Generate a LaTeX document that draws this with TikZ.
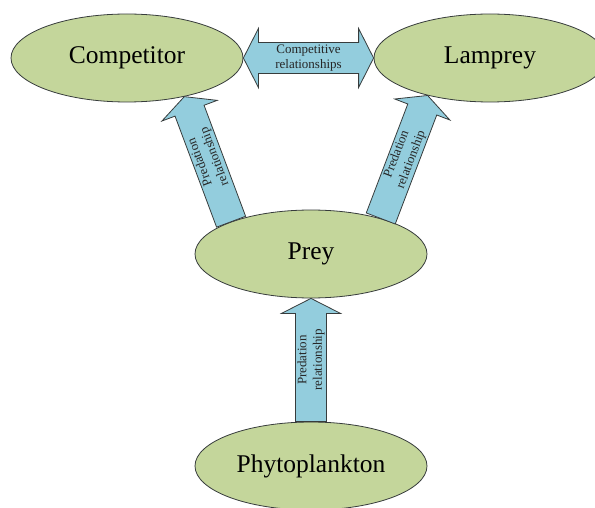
\documentclass[tikz,border=0pt]{standalone}
\usepackage{fontspec}
\setmainfont{Liberation Serif}
\usetikzlibrary{calc,shapes.geometric}
\definecolor{ovalgreen}{RGB}{196,214,155}
\definecolor{arrowblue}{RGB}{147,205,221}
\definecolor{edgegray}{RGB}{55,60,60}

\tikzset{
	oval/.style={ellipse, draw=edgegray, fill=ovalgreen, line width=0.8pt,
		minimum width=232pt, minimum height=88pt, inner sep=0pt,
		font=\fontsize{25.5}{30}\selectfont},
	fatline/.style={draw=edgegray, fill=arrowblue, line width=0.8pt, line join=miter},
	arrowtext/.style={font=\fontsize{13}{15.5}\selectfont, align=center, text=black!85}
}

% #1 base, #2 tip, #3 label
\newcommand{\fatarrow}[3]{%
	\coordinate (hb) at ($(#2)!15pt!(#1)$);
	\draw[fatline] ($(#1)!15.5pt!90:(#2)$) -- ($(hb)!15.5pt!90:(#2)$)
		-- ($(hb)!29.5pt!90:(#2)$) -- (#2) -- ($(hb)!29.5pt!-90:(#2)$)
		-- ($(hb)!15.5pt!-90:(#2)$) -- ($(#1)!15.5pt!-90:(#2)$) -- cycle;
	\path (#1) -- (#2) node[midway, sloped, allow upside down, arrowtext] {#3};
}

\begin{document}
\begin{tikzpicture}[x=1pt,y=1pt]
	\useasboundingbox (0,0) rectangle (595,-508);
	\node[oval] (comp) at (127,-58) {Competitor};
	\node[oval] (lamprey) at (490,-58) {Lamprey};
	\node[oval] (prey) at (311,-254) {Prey};
	\node[oval] (phyto) at (311,-466) {Phytoplankton};

	\fatarrow{prey.158}{comp.326}{Predation\\relationship}
	\fatarrow{prey.27}{lamprey.211}{Predation\\relationship}
	\fatarrow{phyto.north}{prey.south}{Predation\\relationship}

	\coordinate (la) at ($(comp.east)!15pt!(lamprey.west)$);
	\coordinate (ra) at ($(lamprey.west)!15pt!(comp.east)$);
	\draw[fatline] (comp.east) -- ($(la)!29.5pt!90:(lamprey.west)$) -- ($(la)!15.5pt!90:(lamprey.west)$)
		-- ($(ra)!15.5pt!-90:(comp.east)$) -- ($(ra)!29.5pt!-90:(comp.east)$) -- (lamprey.west)
		-- ($(ra)!29.5pt!90:(comp.east)$) -- ($(ra)!15.5pt!90:(comp.east)$)
		-- ($(la)!15.5pt!-90:(lamprey.west)$) -- ($(la)!29.5pt!-90:(lamprey.west)$) -- cycle;
	\path (comp.east) -- (lamprey.west) node[midway, arrowtext] {Competitive\\relationships};
\end{tikzpicture}
\end{document}
